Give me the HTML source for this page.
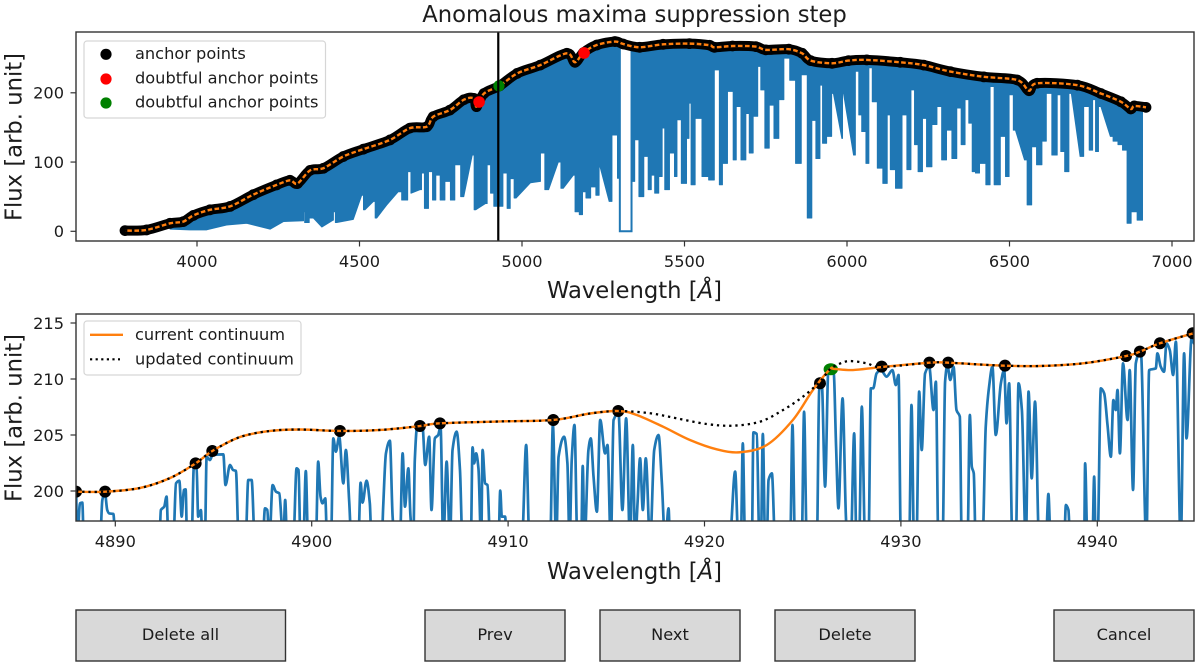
<!DOCTYPE html>
<html lang="en">
<head>
<meta charset="utf-8">
<title>Anomalous maxima suppression step</title>
<style>
html,body{margin:0;padding:0;background:#fff;width:1200px;height:669px;overflow:hidden}
svg{display:block;filter:blur(0.35px)}
text{font-family:"DejaVu Sans","Liberation Sans",sans-serif;fill:#1c1c1c}
.tick{font-size:16.2px}
.lab{font-size:22.7px}
.leg{font-size:16.2px}
.btn rect{fill:#d9d9d9;stroke:#333;stroke-width:1.4}
.btn text{font-size:16.2px;text-anchor:middle}
</style>
</head>
<body>
<svg id="fig" xmlns="http://www.w3.org/2000/svg" width="1200" height="669" viewBox="0 0 1200 669">
  <defs>
    <clipPath id="clipTop"><rect x="76" y="32" width="1118" height="209"/></clipPath>
    <clipPath id="clipBot"><rect x="76" y="314" width="1118" height="207"/></clipPath>
  </defs>
  <text x="634.5" y="22" text-anchor="middle" style="font-size:22.7px">Anomalous maxima suppression step</text>

  <g id="topMarks" clip-path="url(#clipTop)"></g>
  <g id="botMarks" clip-path="url(#clipBot)"></g>
  <g id="axesLayer"></g>

  <rect x="76" y="32" width="1118" height="209" fill="none" stroke="#333" stroke-width="1.4"/>
  <rect x="76" y="314" width="1118" height="207" fill="none" stroke="#333" stroke-width="1.4"/>

  <text class="lab" transform="translate(21.5,137) rotate(-90)" text-anchor="middle">Flux [arb. unit]</text>
  <text class="lab" transform="translate(21.5,418) rotate(-90)" text-anchor="middle">Flux [arb. unit]</text>
  <text class="lab" x="634.5" y="298" text-anchor="middle">Wavelength [<tspan font-style="italic">Å</tspan>]</text>
  <text class="lab" x="634.5" y="579" text-anchor="middle">Wavelength [<tspan font-style="italic">Å</tspan>]</text>

  <g>
    <rect x="84" y="41" width="241.5" height="77" rx="3" fill="#fff" fill-opacity="0.85" stroke="#d6d6d6" stroke-width="1.2"/>
    <circle cx="106" cy="54.3" r="5.6" fill="#000"/>
    <text class="leg" x="135" y="59">anchor points</text>
    <circle cx="106" cy="79" r="5.6" fill="#f00"/>
    <text class="leg" x="135" y="83.5">doubtful anchor points</text>
    <circle cx="106" cy="103" r="5.6" fill="#008000"/>
    <text class="leg" x="135" y="107.5">doubtful anchor points</text>
  </g>

  <g>
    <rect x="84" y="321" width="217" height="54" rx="3" fill="#fff" fill-opacity="0.85" stroke="#d6d6d6" stroke-width="1.2"/>
    <line x1="90" x2="123" y1="334.8" y2="334.8" stroke="#ff7f0e" stroke-width="2.3"/>
    <text class="leg" x="135" y="340">current continuum</text>
    <line x1="90" x2="120" y1="359.3" y2="359.3" stroke="#000" stroke-width="2.2" stroke-dasharray="2.2 3.4"/>
    <text class="leg" x="135" y="364.5">updated continuum</text>
  </g>

  <g class="btn"><rect x="76" y="610" width="209.5" height="51"/><text x="180.5" y="640">Delete all</text></g>
  <g class="btn"><rect x="425" y="610" width="140" height="51"/><text x="495" y="640">Prev</text></g>
  <g class="btn"><rect x="600" y="610" width="140" height="51"/><text x="670" y="640">Next</text></g>
  <g class="btn"><rect x="775" y="610" width="140" height="51"/><text x="845" y="640">Delete</text></g>
  <g class="btn"><rect x="1054" y="610" width="140" height="51"/><text x="1124" y="640">Cancel</text></g>
</svg>
<script>
/* ---------- top panel data ---------- */
var topXTicks = [4000, 4500, 5000, 5500, 6000, 6500, 7000];
var topYTicks = [0, 100, 200];
var topAnchorWave = [3778.5,3845,3917,3958,3989,4040,4102,4173,4245,4286,4309,4348,4389,4450,4512,4594,4655,4707,4727,4778,4821,4852,4860,4883,4931,4985,5056,5138,5163,5189,5230,5286,5311,5362,5434,5515,5577,5592,5648,5719,5750,5821,5862,5888,5954,6005,6061,6164,6236,6318,6421,6524,6560,6585,6709,6781,6843,6873,6884,6920];
var topAnchorFlux = [1,2,11.5,14,23,31,36,52.9,67,73.6,68.9,88,91,108,118.6,132,149,151,165.6,175,190,192,180,199,210,228,240,257,244,258,269,274,270.5,265.7,270,271,268.7,265.7,267.6,266.7,262,263,257,246.5,242.6,246.5,247.5,244,240,230.6,223,218.5,203,213.8,211,199,187,176.7,181,179];
var lowerWaveA = [3917,3978,4030,4091,4153,4225,4266,4327,4329,4333,4358,4384,4419,4421,4430,4481,4507,4517,4543,4553,4584,4619,4640,4657,4659,4686,4696,4703,4722,4727,4743,4753,4773,4786,4801,4821,4847,4858,4888,4898,4908,4918,4934,4949,4959,4969,4982,5026,5056,5058,5082,5112,5127,5158,5168,5184,5189,5204,5219,5235,5240,5268,5286,5301];
var lowerFluxA = [3,2,2,9,11.5,3,14,15,28,12.5,19,6,16,28,12.5,17,52,31,43,19,38,57,45,86,55,60,84,33,86,45,81,45,72,45,96,50,110,31,40,96,55,36,36,84,33,76,48,70,72,113,60,100,62,81,28,24,57,48,64,52,93,43,139,76.5];
var gapWave = [5301,5301,5337,5337];
var gapFlux = [270,0,0,267];
var lowerWaveB = [5337,5342,5352,5367,5383,5393,5403,5413,5429,5434,5444,5464,5474,5480,5500,5513,5515,5525,5541,5566,5582,5602,5612,5622,5643,5656,5663,5684,5694,5704,5719,5732,5737,5757,5765,5785,5796,5816,5831,5852,5867,5888,5896,5912,5922,5927,5948,5958,5984,5989,6020,6032,6040,6050,6066,6069,6086,6100,6120,6128,6138,6160,6179,6189,6205,6210,6227,6238,6251,6272,6282,6300,6313,6332,6344,6358,6369,6380,6390,6400,6416,6438,6443,6462,6482,6493,6505,6518,6546,6562,6575,6591,6609,6618,6642,6652,6663,6676,6690,6717,6740,6750,6762,6767,6781,6810,6827,6840,6855,6868,6881,6904,6915];
var lowerFluxB = [200,72,132,50,108,60,81,55,79,149,60,113,79,161,69,134,185,67,163,79,74,233,67,98,202,103,180,103,170,113,166,238,204,120,182,134,190,250,218,98,226,19,160,105,211,127,137,199,134,199,110,231,168,144,98,236,187,91,69,168,89,62,168,89,204,125,86,163,93,154,180,103,146,105,178,125,190,156,86,84,98,67,209,67,137,79,197,146,103,38,122,96,130,199,110,197,115,86,199,108,180,117,190,115,180,137,130,125,117,11.5,28,16,175];
var doubtfulRedWave = [4868, 5191];
var doubtfulRedFlux = [186.7, 257.5];
var doubtfulGreenWave = [4929];
var doubtfulGreenFlux = [210];
var cursorWave = [4927];

/* ---------- bottom panel data ---------- */
var botXTicks = [4890, 4900, 4910, 4920, 4930, 4940];
var botYTicks = [200, 205, 210, 215];
var zoomAnchorWave = [4888,4889.48,4894.09,4894.94,4901.44,4905.51,4906.53,4912.3,4915.61,4925.88,4929.02,4931.45,4932.41,4935.3,4941.46,4942.17,4943.19,4944.86];
var zoomAnchorFlux = [199.94,199.94,202.47,203.57,205.36,205.8,206.04,206.34,207.14,209.62,211.1,211.46,211.46,211.19,212.05,212.44,213.19,214.08];
var zoomGreenWave = [4926.43];
var zoomGreenFlux = [210.87];
var currentWave = [4888,4889.48,4891.26,4892.79,4894.09,4894.94,4896.35,4897.88,4899.4,4901.44,4903.48,4905.51,4906.53,4909.59,4912.3,4914.17,4915.61,4916.55,4917.89,4919.26,4920.62,4921.81,4923.17,4924.5,4925.52,4926.39,4926.6,4927.56,4929.02,4931.45,4932.41,4933.86,4935.3,4937.08,4939.27,4941.46,4942.17,4943.19,4944.94];
var currentFlux = [199.94,199.94,200.27,201.16,202.47,203.57,204.82,205.36,205.49,205.36,205.45,205.8,206.04,206.21,206.34,206.92,207.14,206.79,205.74,204.55,203.72,203.46,204.11,206.34,209.02,210.87,210.9,210.8,211.07,211.46,211.46,211.31,211.19,211.16,211.4,212.05,212.44,213.19,214.11];
var updatedWave = [4888,4889.48,4891.26,4892.79,4894.09,4894.94,4896.35,4897.88,4899.4,4901.44,4903.48,4905.51,4906.53,4909.59,4912.3,4914.17,4915.61,4917.23,4918.58,4920.11,4921.45,4922.83,4924,4925.01,4925.88,4926.39,4926.9,4927.41,4928.26,4929.02,4931.45,4932.41,4933.86,4935.3,4937.08,4939.27,4941.46,4942.17,4943.19,4944.94];
var updatedFlux = [199.94,199.94,200.27,201.16,202.47,203.57,204.82,205.36,205.49,205.36,205.45,205.8,206.04,206.21,206.34,206.92,207.14,206.94,206.49,205.98,205.83,206.19,207.23,208.42,209.76,210.87,211.38,211.6,211.4,211.07,211.46,211.46,211.31,211.19,211.16,211.4,212.05,212.44,213.19,214.11];
var spectrumWave = [4888,4888.06,4888.2,4888.32,4888.4,4889.22,4889.34,4889.47,4889.59,4889.69,4889.9,4890.02,4892.24,4892.32,4892.49,4892.61,4892.71,4892.95,4893.09,4893.26,4893.38,4893.49,4893.58,4893.66,4893.88,4894,4894.14,4894.22,4894.36,4894.44,4894.56,4894.65,4894.82,4894.95,4895.5,4895.61,4895.84,4896,4896.14,4896.29,4896.63,4896.77,4896.94,4897.11,4897.5,4897.62,4897.74,4897.84,4898.01,4898.18,4898.35,4898.47,4898.55,4898.65,4898.75,4899.06,4899.23,4899.33,4899.43,4899.57,4899.7,4899.82,4900.21,4900.33,4900.45,4900.55,4900.69,4900.79,4900.98,4901.1,4901.23,4901.4,4901.61,4901.74,4901.91,4902.03,4902.37,4902.49,4902.59,4902.79,4902.96,4903.05,4903.56,4903.64,4903.78,4903.98,4904.12,4904.24,4904.49,4904.63,4904.75,4904.92,4905.03,4905.17,4905.25,4905.37,4905.64,4905.78,4905.98,4906.1,4906.27,4906.44,4906.56,4906.7,4906.87,4907.04,4907.17,4907.38,4907.55,4907.68,4908.1,4908.19,4908.27,4908.37,4908.49,4908.63,4908.7,4908.83,4908.95,4909.09,4909.51,4909.6,4909.68,4909.85,4909.93,4910.7,4910.92,4911.09,4912.14,4912.28,4912.45,4912.57,4912.85,4913.02,4913.13,4913.24,4913.38,4913.53,4913.72,4913.8,4913.89,4914.09,4914.21,4914.35,4914.52,4914.69,4914.94,4915.06,4915.23,4915.37,4915.62,4915.82,4916.01,4916.21,4916.35,4916.47,4916.59,4916.72,4916.86,4917.01,4917.23,4917.44,4917.66,4917.83,4918,4918.17,4918.25,4921.27,4921.56,4921.73,4921.85,4921.95,4922.07,4922.41,4922.49,4922.66,4922.8,4922.87,4922.97,4923.09,4923.17,4923.26,4923.43,4923.6,4924.36,4924.48,4924.61,4924.95,4925.07,4925.21,4925.72,4925.84,4925.97,4926.14,4926.31,4926.57,4926.7,4926.82,4927.03,4927.2,4927.28,4927.45,4927.62,4927.74,4927.87,4928.01,4928.18,4928.35,4928.47,4928.59,4928.76,4928.98,4929.27,4929.57,4929.74,4929.88,4930,4930.42,4930.54,4930.67,4930.79,4930.93,4931.06,4931.23,4931.44,4931.66,4931.78,4931.91,4932.12,4932.25,4932.37,4932.51,4932.68,4932.83,4933,4933.1,4933.39,4933.51,4933.61,4933.71,4933.81,4934.15,4934.32,4934.49,4934.66,4934.83,4935.09,4935.26,4935.38,4935.51,4935.68,4935.85,4935.99,4936.16,4936.36,4936.5,4936.66,4936.83,4937.04,4937.38,4937.51,4937.63,4938.31,4938.4,4938.53,4938.62,4939.33,4939.38,4939.5,4939.75,4939.84,4939.92,4940.01,4940.18,4940.35,4940.52,4940.69,4940.82,4940.94,4941.03,4941.15,4941.31,4941.54,4941.65,4941.82,4941.96,4942.21,4942.5,4942.64,4942.98,4943.06,4943.23,4943.4,4943.52,4943.69,4943.86,4944,4944.25,4944.42,4944.54,4944.81,4944.93];
var spectrumFlux = [199.94,195.3,198.9,198.96,195.3,195.3,199.2,199.85,198.3,198,197.95,195.3,195.3,198.3,198.6,199.5,195.3,195.3,200.68,200.92,197.71,200.09,200.15,195.3,195.3,202.17,202.02,197.71,198.3,195.3,195.3,203.06,202.77,203.21,203.27,200.53,202.32,201.87,201.8,195.3,195.3,200.98,200.98,195.3,195.3,198.45,198.3,195.3,200.53,199.94,199.79,197.11,195.3,199.2,195.3,195.3,202.02,201.87,195.3,195.3,201.78,195.3,195.3,202.62,199.49,198.9,199.34,195.3,195.3,204.7,203.51,204.85,200.68,203.66,199.05,195.3,195.3,200.74,198.96,200.92,198.9,195.3,195.3,198.6,203.36,204.49,197.71,195.3,195.3,203.36,198.6,202.02,197.71,195.3,202.77,205.74,205.74,202.32,204.85,198.3,204.7,205,205.74,195.3,202.62,195.3,203.66,205.3,201.87,195.3,195.3,203.9,202.47,203.36,202.02,195.3,203.66,200.68,200.53,195.3,195.3,200.03,197.71,197.71,195.3,195.3,204.11,195.3,195.3,205.89,195.3,203.06,204.85,202.47,195.3,202.77,205.89,195.3,195.3,202.23,195.3,203.66,204.7,201.28,198.15,206.34,203.36,204.11,195.3,206.34,206.93,198.3,206.49,195.3,204.11,195.3,198.9,202.92,198.3,202.92,195.3,203.66,205,200.68,195.3,198.45,195.3,195.3,201.73,195.3,195.3,204.26,195.3,195.3,205.24,205.09,195.3,195.3,205.09,195.3,195.3,200.98,201.58,195.3,195.3,205.89,195.3,195.3,207.08,195.3,195.3,209.02,209.61,200.39,210.95,210.8,203.96,198.45,208.27,197.71,195.3,195.3,205.15,195.3,195.3,207.53,195.3,195.3,209.17,209.17,210.5,210.8,210.21,210.8,209.46,210.36,195.3,195.3,207.68,195.3,195.3,208.87,203.66,210.5,211.1,207.23,209.76,195.3,195.3,209.76,211.25,209.91,211.1,207.23,206.64,195.3,195.3,206.79,202.17,201.58,195.3,195.3,205.74,209.31,211.1,205,209.61,210.8,206.04,209.61,195.3,195.3,209.61,207.23,195.3,208.87,201.13,207.98,195.3,195.3,199.73,195.3,195.3,198.75,198.3,195.3,195.3,202.47,195.3,195.3,201.28,195.3,195.3,209.17,208.72,205.89,203.06,208.12,207.23,209.02,203.36,211.4,206.34,210.8,200.09,211.4,212.59,195.3,210.8,210.95,212.29,211.1,210.65,213.18,212.59,210.36,213.33,195.3,212.29,204.7,213.78,213.18];

/* ---------- axis functions ---------- */
function xTop(w){ return 197 + (w - 4000) * 0.325; }
function yTop(f){ return 231.3 - f * 0.6925; }
function xBot(w){ return 115.3 + (w - 4890) * 19.64; }
function yBot(f){ return 491 - (f - 200) * 11.2; }

var NS = 'http://www.w3.org/2000/svg';
function mk(tag, parent, attrs){
  var el = document.createElementNS(NS, tag);
  for (var k in attrs) el.setAttribute(k, attrs[k]);
  parent.appendChild(el);
  return el;
}
function linePath(xs, ys, fx, fy){
  var d = '';
  for (var i = 0; i < xs.length; i++) d += (i ? 'L' : 'M') + fx(xs[i]).toFixed(2) + ' ' + fy(ys[i]).toFixed(2);
  return d;
}
function smoothPath(xs, ys, fx, fy){
  var p = xs.map(function(x, i){ return [fx(x), fy(ys[i])]; });
  var d = 'M' + p[0][0].toFixed(2) + ' ' + p[0][1].toFixed(2);
  for (var i = 0; i < p.length - 1; i++){
    var a = p[Math.max(i - 1, 0)], b = p[i], c = p[i + 1], e = p[Math.min(i + 2, p.length - 1)];
    d += 'C' + (b[0] + (c[0] - a[0]) / 6).toFixed(2) + ' ' + (b[1] + (c[1] - a[1]) / 6).toFixed(2) + ' ' +
         (c[0] - (e[0] - b[0]) / 6).toFixed(2) + ' ' + (c[1] - (e[1] - b[1]) / 6).toFixed(2) + ' ' +
         c[0].toFixed(2) + ' ' + c[1].toFixed(2);
  }
  return d;
}
/* monotone cubic: rounded extrema without overshoot */
function monotonePath(xs, ys, fx, fy){
  var px = xs.map(fx), py = ys.map(fy), n = px.length, m = [], d;
  for (var i = 0; i < n; i++){
    if (i === 0 || i === n - 1){ m.push(0); continue; }
    var s0 = (py[i] - py[i - 1]) / Math.max(px[i] - px[i - 1], 0.01);
    var s1 = (py[i + 1] - py[i]) / Math.max(px[i + 1] - px[i], 0.01);
    m.push(s0 * s1 <= 0 ? 0 : 2 * s0 * s1 / (s0 + s1));
  }
  d = 'M' + px[0].toFixed(2) + ' ' + py[0].toFixed(2);
  for (var j = 0; j < n - 1; j++){
    var h = (px[j + 1] - px[j]) / 3;
    d += 'C' + (px[j] + h).toFixed(2) + ' ' + (py[j] + m[j] * h).toFixed(2) + ' ' +
         (px[j + 1] - h).toFixed(2) + ' ' + (py[j + 1] - m[j + 1] * h).toFixed(2) + ' ' +
         px[j + 1].toFixed(2) + ' ' + py[j + 1].toFixed(2);
  }
  return d;
}
function continuumAt(w){
  for (var i = 0; i < topAnchorWave.length - 1; i++){
    if (w <= topAnchorWave[i + 1]){
      var t = (w - topAnchorWave[i]) / (topAnchorWave[i + 1] - topAnchorWave[i]);
      return topAnchorFlux[i] + t * (topAnchorFlux[i + 1] - topAnchorFlux[i]);
    }
  }
  return topAnchorFlux[topAnchorFlux.length - 1];
}
function bandPath(lw, lf){
  var w0 = lw[0], w1 = lw[lw.length - 1], d = '';
  d += 'M' + xTop(w0).toFixed(2) + ' ' + yTop(continuumAt(w0)).toFixed(2);
  for (var i = 0; i < topAnchorWave.length; i++){
    if (topAnchorWave[i] > w0 && topAnchorWave[i] < w1) d += 'L' + xTop(topAnchorWave[i]).toFixed(2) + ' ' + yTop(topAnchorFlux[i]).toFixed(2);
  }
  d += 'L' + xTop(w1).toFixed(2) + ' ' + yTop(continuumAt(w1)).toFixed(2);
  /* lower edge: vertical edges midway between close neighbours, straight over wide spans */
  d += 'L' + xTop(lw[lw.length - 1]).toFixed(2) + ' ' + yTop(lf[lw.length - 1]).toFixed(2);
  for (var j = lw.length - 2; j >= 0; j--){
    if (lw[j + 1] - lw[j] <= 25){
      var mid = (lw[j] + lw[j + 1]) / 2;
      d += 'L' + xTop(mid).toFixed(2) + ' ' + yTop(lf[j + 1]).toFixed(2);
      d += 'L' + xTop(mid).toFixed(2) + ' ' + yTop(lf[j]).toFixed(2);
    }
    d += 'L' + xTop(lw[j]).toFixed(2) + ' ' + yTop(lf[j]).toFixed(2);
  }
  return d + 'Z';
}

var topG = document.getElementById('topMarks');
var botG = document.getElementById('botMarks');
var axG = document.getElementById('axesLayer');

/* ---------- top panel marks ---------- */
var bandA = mk('path', topG, {d: bandPath(lowerWaveA, lowerFluxA), fill: '#1f77b4', stroke: '#1f77b4', 'stroke-width': 0.8, 'stroke-linejoin': 'round'});


var bandB = mk('path', topG, {d: bandPath(lowerWaveB, lowerFluxB), fill: '#1f77b4', stroke: '#1f77b4', 'stroke-width': 0.8, 'stroke-linejoin': 'round'});


var gapLine = mk('path', topG, {d: linePath(gapWave, gapFlux, xTop, yTop), fill: 'none', stroke: '#1f77b4', 'stroke-width': 2});



var topBand = mk('path', topG, {d: smoothPath(topAnchorWave, topAnchorFlux, xTop, yTop), fill: 'none', stroke: '#000', 'stroke-width': 10, 'stroke-linejoin': 'round', 'stroke-linecap': 'round'});


for (var i = 0; i < topAnchorWave.length; i++){
  var tp = mk('circle', topG, {cx: xTop(topAnchorWave[i]), cy: yTop(topAnchorFlux[i]), r: 5.4, fill: '#000'});
  
  
}
var topOrange = mk('path', topG, {d: smoothPath(topAnchorWave, topAnchorFlux, xTop, yTop), fill: 'none', stroke: '#ff7f0e', 'stroke-width': 2.4});


var topDots = mk('path', topG, {d: smoothPath(topAnchorWave, topAnchorFlux, xTop, yTop), fill: 'none', stroke: '#000', 'stroke-width': 2.6, 'stroke-dasharray': '2.4 4.6'});



for (var r = 0; r < doubtfulRedWave.length; r++){
  var rp = mk('circle', topG, {cx: xTop(doubtfulRedWave[r]), cy: yTop(doubtfulRedFlux[r]), r: 5.8, fill: '#f00'});
  
  
}
for (var g = 0; g < doubtfulGreenWave.length; g++){
  var gp = mk('circle', topG, {cx: xTop(doubtfulGreenWave[g]), cy: yTop(doubtfulGreenFlux[g]), r: 5.6, fill: '#008000'});
  
  
}
var cursor = mk('line', topG, {x1: xTop(cursorWave[0]), x2: xTop(cursorWave[0]), y1: 32, y2: 241, stroke: '#000', 'stroke-width': 2.2});



/* ---------- bottom panel marks ---------- */
var spec = mk('path', botG, {d: monotonePath(spectrumWave, spectrumFlux, xBot, yBot), fill: 'none', stroke: '#1f77b4', 'stroke-width': 2.7, 'stroke-linejoin': 'round'});


for (var b = 0; b < zoomAnchorWave.length; b++){
  var ap = mk('circle', botG, {cx: xBot(zoomAnchorWave[b]), cy: yBot(zoomAnchorFlux[b]), r: 6, fill: '#000'});
  
  
}
for (var z = 0; z < zoomGreenWave.length; z++){
  var zg = mk('ellipse', botG, {cx: xBot(zoomGreenWave[z]), cy: yBot(zoomGreenFlux[z]), rx: 7.2, ry: 6, fill: '#008000'});
  
  
}
var botOrange = mk('path', botG, {d: smoothPath(currentWave, currentFlux, xBot, yBot), fill: 'none', stroke: '#ff7f0e', 'stroke-width': 2.4});


var botDots = mk('path', botG, {d: smoothPath(updatedWave, updatedFlux, xBot, yBot), fill: 'none', stroke: '#000', 'stroke-width': 2.3, 'stroke-dasharray': '2.3 3.9'});



/* ---------- ticks ---------- */
function xTicks(ticks, fx, yBase, prefix){
  ticks.forEach(function(t){
    var mark = mk('line', axG, {x1: fx(t), x2: fx(t), y1: yBase, y2: yBase + 5.5, stroke: '#333', 'stroke-width': 1.2});
    
    
    var lbl = mk('text', axG, {x: fx(t), y: yBase + 26, 'text-anchor': 'middle', 'class': 'tick'});
    
    
    lbl.textContent = t;
  });
}
function yTicks(ticks, fy, prefix){
  ticks.forEach(function(t){
    var mark = mk('line', axG, {x1: 70.5, x2: 76, y1: fy(t), y2: fy(t), stroke: '#333', 'stroke-width': 1.2});
    
    
    var lbl = mk('text', axG, {x: 64, y: fy(t) + 5.8, 'text-anchor': 'end', 'class': 'tick'});
    
    
    lbl.textContent = t;
  });
}
xTicks(topXTicks, xTop, 241, 'top');
yTicks(topYTicks, yTop, 'top');
xTicks(botXTicks, xBot, 521, 'bottom');
yTicks(botYTicks, yBot, 'bottom');
</script>
</body>
</html>
